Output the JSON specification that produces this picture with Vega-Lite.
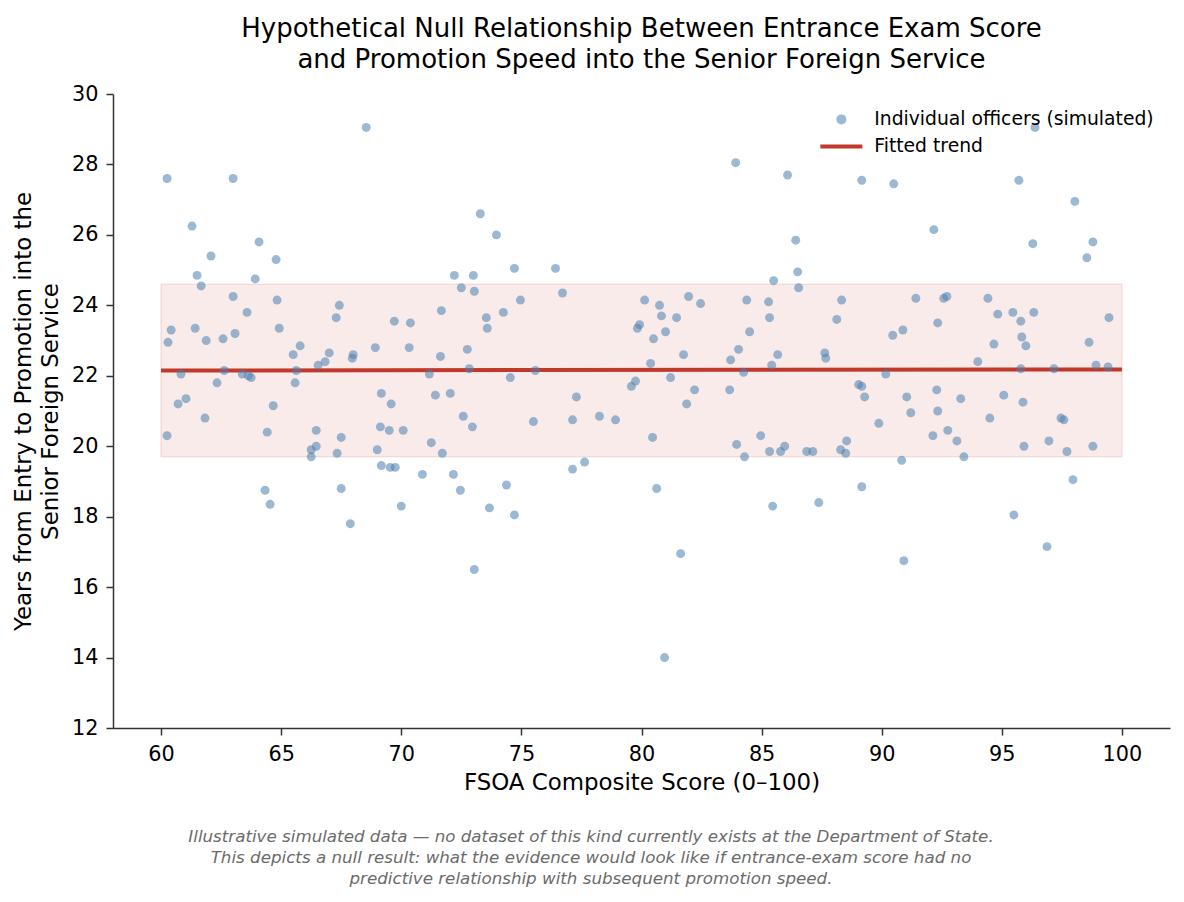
{
  "$schema": "https://vega.github.io/schema/vega-lite/v6.json",
  "padding": {"left": 12, "top": 16, "right": 14, "bottom": 10},
  "background": "white",
  "config": {
    "font": "DejaVu Sans",
    "view": {"stroke": null},
    "concat": {"spacing": 0},
    "legend": {
      "title": null,
      "orient": "top-right",
      "offset": 12,
      "padding": 4,
      "labelFontSize": 18.75,
      "labelColor": "black",
      "labelLimit": 0,
      "labelOffset": 23.5,
      "rowPadding": 7,
      "symbolSize": 80
    }
  },
  "title": {
    "text": [
      "Illustrative simulated data — no dataset of this kind currently exists at the Department of State.",
      "This depicts a null result: what the evidence would look like if entrance-exam score had no",
      "predictive relationship with subsequent promotion speed."
    ],
    "orient": "bottom",
    "frame": "bounds",
    "anchor": "middle",
    "fontSize": 16.7,
    "fontStyle": "italic",
    "fontWeight": "normal",
    "color": "#6b6b6b",
    "lineHeight": 21,
    "offset": 34
  },
  "datasets": {
    "band": [{"x0": 60, "x1": 100, "lo": 19.7, "hi": 24.6}],
    "trend": [{"score": 60, "fit": 22.15}, {"score": 100, "fit": 22.18}],
    "officers": [
      {"score": 60.25, "years": 27.6}, {"score": 60.29, "years": 22.95}, {"score": 60.42, "years": 23.3}, {"score": 60.25, "years": 20.3},
      {"score": 60.83, "years": 22.05}, {"score": 60.71, "years": 21.2}, {"score": 61.04, "years": 21.35}, {"score": 61.29, "years": 26.25},
      {"score": 61.42, "years": 23.35}, {"score": 61.5, "years": 24.85}, {"score": 61.67, "years": 24.55}, {"score": 61.88, "years": 23.0},
      {"score": 61.83, "years": 20.8}, {"score": 62.08, "years": 25.4}, {"score": 62.33, "years": 21.8}, {"score": 62.58, "years": 23.05},
      {"score": 62.63, "years": 22.15}, {"score": 63.0, "years": 27.6}, {"score": 63.0, "years": 24.25}, {"score": 63.08, "years": 23.2},
      {"score": 63.38, "years": 22.05}, {"score": 63.58, "years": 23.8}, {"score": 63.63, "years": 22.0}, {"score": 63.75, "years": 21.95},
      {"score": 63.92, "years": 24.75}, {"score": 64.08, "years": 25.8}, {"score": 64.33, "years": 18.75}, {"score": 64.42, "years": 20.4},
      {"score": 64.54, "years": 18.35}, {"score": 64.67, "years": 21.15}, {"score": 64.79, "years": 25.3}, {"score": 64.83, "years": 24.15},
      {"score": 64.92, "years": 23.35}, {"score": 65.5, "years": 22.6}, {"score": 65.63, "years": 22.15}, {"score": 65.58, "years": 21.8},
      {"score": 65.79, "years": 22.85}, {"score": 66.25, "years": 19.9}, {"score": 66.25, "years": 19.7}, {"score": 66.46, "years": 20.45},
      {"score": 66.46, "years": 20.0}, {"score": 66.54, "years": 22.3}, {"score": 66.83, "years": 22.4}, {"score": 67.0, "years": 22.65},
      {"score": 67.29, "years": 23.65}, {"score": 67.42, "years": 24.0}, {"score": 67.33, "years": 19.8}, {"score": 67.5, "years": 20.25},
      {"score": 67.5, "years": 18.8}, {"score": 67.88, "years": 17.8}, {"score": 67.96, "years": 22.5}, {"score": 68.0, "years": 22.6},
      {"score": 68.54, "years": 29.05}, {"score": 68.92, "years": 22.8}, {"score": 69.0, "years": 19.9}, {"score": 69.13, "years": 20.55},
      {"score": 69.17, "years": 21.5}, {"score": 69.17, "years": 19.45}, {"score": 69.5, "years": 20.45}, {"score": 69.58, "years": 21.2},
      {"score": 69.54, "years": 19.4}, {"score": 69.75, "years": 19.4}, {"score": 69.71, "years": 23.55}, {"score": 70.0, "years": 18.3},
      {"score": 70.08, "years": 20.45}, {"score": 70.33, "years": 22.8}, {"score": 70.38, "years": 23.5}, {"score": 70.88, "years": 19.2},
      {"score": 71.17, "years": 22.05}, {"score": 71.25, "years": 20.1}, {"score": 71.42, "years": 21.45}, {"score": 71.63, "years": 22.55},
      {"score": 71.67, "years": 23.85}, {"score": 71.71, "years": 19.8}, {"score": 72.04, "years": 21.5}, {"score": 72.17, "years": 19.2},
      {"score": 72.21, "years": 24.85}, {"score": 72.46, "years": 18.75}, {"score": 72.5, "years": 24.5}, {"score": 72.58, "years": 20.85},
      {"score": 72.75, "years": 22.75}, {"score": 72.83, "years": 22.2}, {"score": 72.96, "years": 20.55}, {"score": 73.0, "years": 24.85},
      {"score": 73.04, "years": 24.4}, {"score": 73.04, "years": 16.5}, {"score": 73.29, "years": 26.6}, {"score": 73.54, "years": 23.65},
      {"score": 73.58, "years": 23.35}, {"score": 73.67, "years": 18.25}, {"score": 73.96, "years": 26.0}, {"score": 74.25, "years": 23.8},
      {"score": 74.38, "years": 18.9}, {"score": 74.54, "years": 21.95}, {"score": 74.71, "years": 25.05}, {"score": 74.71, "years": 18.05},
      {"score": 74.96, "years": 24.15}, {"score": 75.5, "years": 20.7}, {"score": 75.58, "years": 22.15}, {"score": 76.42, "years": 25.05},
      {"score": 76.71, "years": 24.35}, {"score": 77.13, "years": 20.75}, {"score": 77.13, "years": 19.35}, {"score": 77.29, "years": 21.4},
      {"score": 77.63, "years": 19.55}, {"score": 78.25, "years": 20.85}, {"score": 78.92, "years": 20.75}, {"score": 79.58, "years": 21.7},
      {"score": 79.75, "years": 21.85}, {"score": 79.83, "years": 23.35}, {"score": 79.92, "years": 23.45}, {"score": 80.13, "years": 24.15},
      {"score": 80.38, "years": 22.35}, {"score": 80.46, "years": 20.25}, {"score": 80.5, "years": 23.05}, {"score": 80.63, "years": 18.8},
      {"score": 80.75, "years": 24.0}, {"score": 80.83, "years": 23.7}, {"score": 80.96, "years": 14.0}, {"score": 81.0, "years": 23.25},
      {"score": 81.21, "years": 21.95}, {"score": 81.46, "years": 23.65}, {"score": 81.63, "years": 16.95}, {"score": 81.75, "years": 22.6},
      {"score": 81.88, "years": 21.2}, {"score": 81.96, "years": 24.25}, {"score": 82.21, "years": 21.6}, {"score": 82.46, "years": 24.05},
      {"score": 83.67, "years": 21.6}, {"score": 83.71, "years": 22.45}, {"score": 83.92, "years": 28.05}, {"score": 83.96, "years": 20.05},
      {"score": 84.04, "years": 22.75}, {"score": 84.25, "years": 22.1}, {"score": 84.29, "years": 19.7}, {"score": 84.38, "years": 24.15},
      {"score": 84.5, "years": 23.25}, {"score": 84.96, "years": 20.3}, {"score": 85.29, "years": 24.1}, {"score": 85.33, "years": 23.65},
      {"score": 85.33, "years": 19.85}, {"score": 85.42, "years": 22.3}, {"score": 85.46, "years": 18.3}, {"score": 85.5, "years": 24.7},
      {"score": 85.67, "years": 22.6}, {"score": 85.79, "years": 19.85}, {"score": 85.96, "years": 20.0}, {"score": 86.08, "years": 27.7},
      {"score": 86.42, "years": 25.85}, {"score": 86.5, "years": 24.95}, {"score": 86.54, "years": 24.5}, {"score": 86.88, "years": 19.85},
      {"score": 87.13, "years": 19.85}, {"score": 87.38, "years": 18.4}, {"score": 87.63, "years": 22.65}, {"score": 87.67, "years": 22.5},
      {"score": 88.13, "years": 23.6}, {"score": 88.29, "years": 19.9}, {"score": 88.33, "years": 24.15}, {"score": 88.5, "years": 19.8},
      {"score": 88.54, "years": 20.15}, {"score": 89.04, "years": 21.75}, {"score": 89.17, "years": 27.55}, {"score": 89.17, "years": 21.7},
      {"score": 89.17, "years": 18.85}, {"score": 89.29, "years": 21.4}, {"score": 89.88, "years": 20.65}, {"score": 90.17, "years": 22.05},
      {"score": 90.46, "years": 23.15}, {"score": 90.5, "years": 27.45}, {"score": 90.83, "years": 19.6}, {"score": 90.88, "years": 23.3},
      {"score": 90.92, "years": 16.75}, {"score": 91.04, "years": 21.4}, {"score": 91.21, "years": 20.95}, {"score": 91.42, "years": 24.2},
      {"score": 92.13, "years": 20.3}, {"score": 92.17, "years": 26.15}, {"score": 92.29, "years": 21.6}, {"score": 92.33, "years": 23.5},
      {"score": 92.33, "years": 21.0}, {"score": 92.58, "years": 24.2}, {"score": 92.75, "years": 20.45}, {"score": 92.71, "years": 24.25},
      {"score": 93.13, "years": 20.15}, {"score": 93.29, "years": 21.35}, {"score": 93.42, "years": 19.7}, {"score": 94.0, "years": 22.4},
      {"score": 94.42, "years": 24.2}, {"score": 94.5, "years": 20.8}, {"score": 94.67, "years": 22.9}, {"score": 94.83, "years": 23.75},
      {"score": 95.08, "years": 21.45}, {"score": 95.46, "years": 23.8}, {"score": 95.5, "years": 18.05}, {"score": 95.71, "years": 27.55},
      {"score": 95.79, "years": 23.55}, {"score": 95.79, "years": 22.2}, {"score": 95.83, "years": 23.1}, {"score": 95.88, "years": 21.25},
      {"score": 95.92, "years": 20.0}, {"score": 96.0, "years": 22.85}, {"score": 96.29, "years": 25.75}, {"score": 96.33, "years": 23.8},
      {"score": 96.38, "years": 29.05}, {"score": 96.88, "years": 17.15}, {"score": 96.96, "years": 20.15}, {"score": 97.17, "years": 22.2},
      {"score": 97.46, "years": 20.8}, {"score": 97.58, "years": 20.75}, {"score": 97.71, "years": 19.85}, {"score": 97.96, "years": 19.05},
      {"score": 98.04, "years": 26.95}, {"score": 98.54, "years": 25.35}, {"score": 98.63, "years": 22.95}, {"score": 98.79, "years": 20.0},
      {"score": 98.79, "years": 25.8}, {"score": 98.92, "years": 22.3}, {"score": 99.42, "years": 22.25}, {"score": 99.46, "years": 23.65}
    ]
  },
  "vconcat": [
    {
      "width": 1057,
      "height": 634,
      "title": {
        "text": [
          "Hypothetical Null Relationship Between Entrance Exam Score",
          "and Promotion Speed into the Senior Foreign Service"
        ],
        "anchor": "middle",
        "frame": "group",
        "fontSize": 26,
        "fontWeight": "normal",
        "color": "black",
        "lineHeight": 31,
        "offset": 10
      },
      "encoding": {
        "x": {
          "type": "quantitative",
          "scale": {"domain": [58, 102], "nice": false, "zero": false},
          "axis": {
            "title": "FSOA Composite Score (0–100)",
            "values": [60, 65, 70, 75, 80, 85, 90, 95, 100],
            "grid": false,
            "domainColor": "#333333",
            "domainWidth": 1.5,
            "tickColor": "#333333",
            "tickWidth": 1.5,
            "tickSize": 7,
            "labelFontSize": 20.8,
            "labelColor": "black",
            "labelPadding": 9,
            "titleFontSize": 22.9,
            "titleFontWeight": "normal",
            "titleColor": "black",
            "titlePadding": 8
          }
        },
        "y": {
          "type": "quantitative",
          "scale": {"domain": [12, 30], "nice": false, "zero": false},
          "axis": {
            "title": ["Years from Entry to Promotion into the", "Senior Foreign Service"],
            "values": [12, 14, 16, 18, 20, 22, 24, 26, 28, 30],
            "grid": false,
            "domainColor": "#333333",
            "domainWidth": 1.5,
            "tickColor": "#333333",
            "tickWidth": 1.5,
            "tickSize": 7,
            "labelFontSize": 20.8,
            "labelColor": "black",
            "labelPadding": 8,
            "titleFontSize": 22.9,
            "titleFontWeight": "normal",
            "titleColor": "black",
            "titleLineHeight": 27.5,
            "titlePadding": 9
          }
        }
      },
      "layer": [
        {
          "data": {"name": "band"},
          "mark": {
            "type": "rect",
            "fill": "#c0392b",
            "fillOpacity": 0.1,
            "stroke": "#c0392b",
            "strokeOpacity": 0.12,
            "strokeWidth": 1.5
          },
          "encoding": {
            "x": {"field": "x0"},
            "x2": {"field": "x1"},
            "y": {"field": "lo"},
            "y2": {"field": "hi"}
          }
        },
        {
          "data": {"name": "trend"},
          "mark": {"type": "line", "strokeWidth": 4},
          "encoding": {
            "x": {"field": "score"},
            "y": {"field": "fit"},
            "color": {
              "datum": "Fitted trend",
              "scale": {
                "domain": ["Individual officers (simulated)", "Fitted trend"],
                "range": ["#4a7fb0", "#c0392b"]
              },
              "legend": {
                "encode": {
                  "symbols": {
                    "update": {
                      "shape": {"signal": "datum.value === 'Fitted trend' ? 'stroke' : 'circle'"},
                      "size": {"signal": "datum.value === 'Fitted trend' ? 1764 : 100"},
                      "fill": {"signal": "datum.value === 'Fitted trend' ? 'transparent' : '#4a7fb0'"},
                      "stroke": {"signal": "datum.value === 'Fitted trend' ? '#c0392b' : 'transparent'"},
                      "strokeWidth": {"signal": "datum.value === 'Fitted trend' ? 4 : 0"},
                      "opacity": {"signal": "datum.value === 'Fitted trend' ? 1 : 0.55"}
                    }
                  }
                }
              }
            }
          }
        },
        {
          "data": {"name": "officers"},
          "mark": {"type": "circle", "size": 80, "opacity": 0.55},
          "encoding": {
            "x": {"field": "score"},
            "y": {"field": "years"},
            "color": {
              "datum": "Individual officers (simulated)",
              "legend": {
                "encode": {
                  "symbols": {
                    "update": {
                      "shape": {"signal": "datum.value === 'Fitted trend' ? 'stroke' : 'circle'"},
                      "size": {"signal": "datum.value === 'Fitted trend' ? 1764 : 100"},
                      "fill": {"signal": "datum.value === 'Fitted trend' ? 'transparent' : '#4a7fb0'"},
                      "stroke": {"signal": "datum.value === 'Fitted trend' ? '#c0392b' : 'transparent'"},
                      "strokeWidth": {"signal": "datum.value === 'Fitted trend' ? 4 : 0"},
                      "opacity": {"signal": "datum.value === 'Fitted trend' ? 1 : 0.55"}
                    }
                  }
                }
              }
            }
          }
        }
      ]
    }
  ]
}
